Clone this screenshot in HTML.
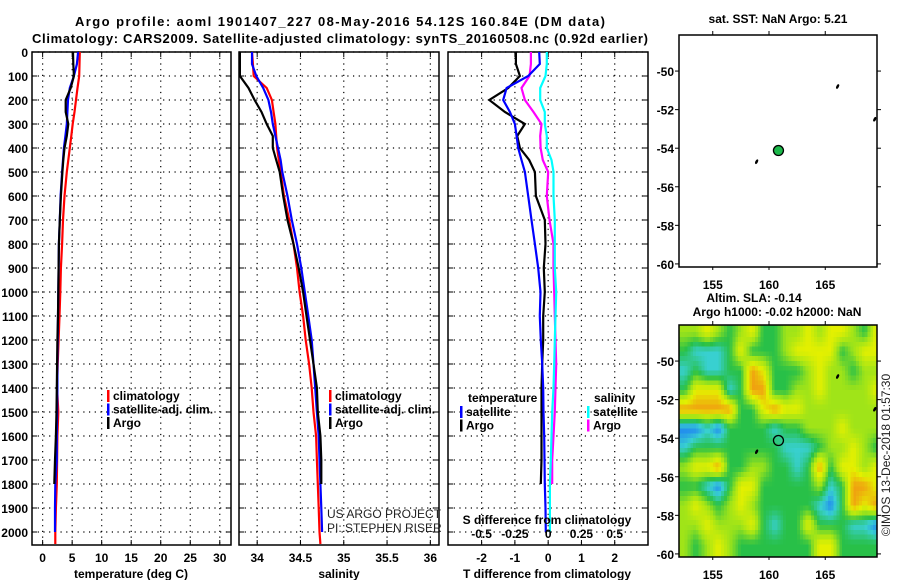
<!DOCTYPE html>
<html><head><meta charset="utf-8"><style>
html,body{margin:0;padding:0;background:#fff;}
svg{display:block;font-family:"Liberation Sans",sans-serif;}
.t{font-weight:bold;font-size:13px;fill:#000;}
.tk{font-weight:bold;font-size:12px;fill:#000;}
.nb{font-weight:normal;font-size:12px;fill:#222;}
</style></head><body>
<svg id="fig" width="900" height="580" viewBox="0 0 900 580">
<defs>
<clipPath id="mclip"><rect x="679" y="325" width="198" height="232"/></clipPath>
</defs>
<text x="340" y="26" text-anchor="middle" class="t" font-size="14" textLength="530">Argo profile: aoml 1901407_227 08-May-2016 54.12S 160.84E (DM data)</text>
<text x="340" y="43" text-anchor="middle" class="t" font-size="14" textLength="616">Climatology: CARS2009. Satellite-adjusted climatology: synTS_20160508.nc (0.92d earlier)</text>
<g id="layer"></g>
</svg>
<script>
const depths=[0,50,100,150,200,250,300,350,400,450,500,600,700,800,900,1000,1100,1200,1300,1400,1500,1600,1700,1800,1900,2000,2050];
const tClim=[6.3,6.25,6.2,5.9,5.65,5.4,5.1,4.85,4.6,4.35,4.1,3.7,3.45,3.3,3.1,3.0,2.85,2.7,2.55,2.45,2.65,2.5,2.45,2.4,2.25,2.15,2.15];
const tSat=[6.0,5.8,5.3,4.6,4.3,4.2,4.1,3.85,3.6,3.45,3.3,3.05,2.9,2.75,2.7,2.65,2.6,2.55,2.5,2.5,2.45,2.4,2.4,2.15,2.1,2.1,null];
const tArgo=[5.15,5.2,5.3,4.75,3.9,3.9,4.35,4.1,3.7,3.5,3.35,3.1,2.9,2.75,2.7,2.65,2.6,2.5,2.45,2.4,2.35,2.25,2.1,1.98,null,null,null];
const sClim=[33.94,33.95,33.96,34.11,34.17,34.19,34.21,34.22,34.23,34.25,34.27,34.31,34.37,34.42,34.46,34.49,34.53,34.56,34.6,34.63,34.65,34.68,34.69,34.7,34.71,34.72,34.73];
const sSat=[33.94,33.94,33.99,34.07,34.13,34.16,34.18,34.21,34.24,34.27,34.29,34.35,34.4,34.46,34.51,34.55,34.59,34.63,34.65,34.67,34.69,34.71,34.72,34.73,34.74,34.75,null];
const sArgo=[33.8,33.8,33.8,33.9,33.97,34.05,34.11,34.18,34.18,34.22,34.26,34.3,34.35,34.42,34.48,34.53,34.57,34.61,34.65,34.69,34.7,34.73,34.74,34.74,null,null,null];
const dtSat=[-0.27,-0.25,-0.6,-1.25,-1.35,-1.15,-1.0,-0.95,-0.9,-0.8,-0.7,-0.6,-0.5,-0.4,-0.3,-0.23,-0.25,-0.22,-0.18,-0.15,-0.14,-0.12,-0.11,-0.1,-0.08,-0.07,null];
const dtArgo=[-0.97,-0.97,-0.85,-1.2,-1.77,-1.3,-0.7,-0.93,-0.85,-0.57,-0.4,-0.37,-0.1,-0.08,-0.13,-0.1,-0.15,-0.15,-0.18,-0.2,-0.2,-0.2,-0.2,-0.22,null,null,null];
const dsSat=[-0.01,-0.01,-0.02,-0.06,-0.06,-0.025,-0.025,-0.01,-0.01,0.025,0.04,0.04,0.05,0.05,0.05,0.06,0.055,0.05,0.045,0.04,0.03,0.025,0.02,0.013,0.013,0.013,null];
const dsArgo=[-0.13,-0.13,-0.14,-0.2,-0.175,-0.11,-0.05,-0.06,-0.057,-0.04,0,-0.01,0.01,0.04,0.04,0.045,0.05,0.055,0.06,0.055,0.05,0.04,0.03,0.03,null,null,null];
const depthTicks=[0,100,200,300,400,500,600,700,800,900,1000,1100,1200,1300,1400,1500,1600,1700,1800,1900,2000];
const tTicks=[0,5,10,15,20,25,30];
const sTicks=[34,34.5,35,35.5,36];
const sTickLabels=["34","34.5","35","35.5","36"];
const dtTicks=[-2,-1,0,1,2];
const dsTicks=[-0.5,-0.25,0,0.25,0.5];
const dsTickLabels=["-0.5","-0.25","0","0.25","0.5"];
const lonTicks=[155,160,165];
const latTicks=[-50,-52,-54,-56,-58,-60];
const floatLon=160.84, floatLat=-54.12;
const islands=[[166.1,-50.8],[169.4,-52.5],[158.9,-54.7]];
const slaLats=[-48,-49,-50,-51,-52,-53,-54,-55,-56,-57,-58,-59];
const slaRows=["llylglyggllylyylgy","gcccgyggglyyyyglyy","cgccggoyggglyllgll","gyyycgooggllylllly","oooooggyoyylllllll","bbcbggggcgglllylll","cggggggggcccgllylg","lyyoggllggcgogyyly","ggcbgyyggggglcgooy","lylglylgggggcbgoyo","llylllygcggygggccb","lglylgggggggyygggg"];
</script>
<script>
const NS="http://www.w3.org/2000/svg";
const L=document.getElementById('layer');
function mk(tag,attrs,parent){const e=document.createElementNS(NS,tag);for(const k in attrs)e.setAttribute(k,attrs[k]);(parent||L).appendChild(e);return e;}
function txt(x,y,s,cls,anchor,parent){const e=mk('text',{x:x,y:y,'class':cls,'text-anchor':anchor||'start'},parent);e.textContent=s;return e;}
const Y0=52,YB=545;
function yD(d){return Y0+d*0.24;}
function panel(x0,x1,xmin,xmax,name){
  const sx=v=>x0+(v-xmin)/(xmax-xmin)*(x1-x0);
  const g=mk('g',{});
  
  
  return {sx,g,x0,x1};
}
function frame(p,xt,xtl,showY){
  depthTicks.forEach(d=>{const y=yD(d);
    const l=mk('line',{x1:p.x0,x2:p.x1,y1:y,y2:y,stroke:'#000','stroke-width':1.2,'stroke-dasharray':'1.2 4.5'},p.g);
    
    mk('line',{x1:p.x0,x2:p.x0+5,y1:y,y2:y,stroke:'#000'},p.g);mk('line',{x1:p.x1-5,x2:p.x1,y1:y,y2:y,stroke:'#000'},p.g);
    if(showY){const t=txt(28,y+5,String(d),'tk','end',p.g);}
  });
  xt.forEach((v,i)=>{const x=p.sx(v);
    const l=mk('line',{x1:x,x2:x,y1:Y0,y2:YB,stroke:'#000','stroke-width':1.2,'stroke-dasharray':'1.2 4.5'},p.g);
    
    mk('line',{x1:x,x2:x,y1:YB-5,y2:YB,stroke:'#000'},p.g);mk('line',{x1:x,x2:x,y1:Y0,y2:Y0+5,stroke:'#000'},p.g);
    const t=txt(x,562,xtl[i],'tk','middle',p.g);
  });
  const r=mk('rect',{x:p.x0,y:Y0,width:p.x1-p.x0,height:YB-Y0,fill:'none',stroke:'#000','stroke-width':1.5},p.g);
  
}
function series(p,vals,col,name){
  let pts=[];vals.forEach((v,i)=>{if(v!==null)pts.push(p.sx(v).toFixed(1)+','+yD(depths[i]).toFixed(1));});
  const e=mk('polyline',{points:pts.join(' '),fill:'none',stroke:col,'stroke-width':2.2},p.g);
  
}
function legend(p,x,y,items){items.forEach((it,i)=>{
  const yy=y+i*13.5;
  const b=mk('rect',{x:x,y:yy-9,width:2.5,height:12,fill:it[1]},p.g);
  const t=txt(x+6,yy+1,it[0],'tk','start',p.g);});}

const p1=panel(32,231,-1.8,31.9,'temperature-panel');
frame(p1,tTicks,tTicks.map(String),true);
series(p1,tClim,'#f00','temp-climatology-line');series(p1,tSat,'#00f','temp-satellite-line');series(p1,tArgo,'#000','temp-argo-line');
legend(p1,107,399,[['climatology','#f00'],['satellite-adj. clim.','#00f'],['Argo','#000']]);
let at=txt(131,578,'temperature (deg C)','tk','middle',p1.g);

const p2=panel(239,439,33.79,36.1,'salinity-panel');
frame(p2,sTicks,sTickLabels,false);
series(p2,sClim,'#f00','sal-climatology-line');series(p2,sSat,'#00f','sal-satellite-line');series(p2,sArgo,'#000','sal-argo-line');
legend(p2,329,399,[['climatology','#f00'],['satellite-adj. clim.','#00f'],['Argo','#000']]);
at=txt(339,578,'salinity','tk','middle',p2.g);
let c1=txt(327,518,'US ARGO PROJECT','nb','start',p2.g);
let c2=txt(327,532,'PI: STEPHEN RISER','nb','start',p2.g);

const p3=panel(448,648,-3.01,3.0,'difference-panel');
frame(p3,dtTicks,dtTicks.map(String),false);
const p3s={sx:v=>p3.sx(v*4),g:p3.g,x0:p3.x0,x1:p3.x1};
series(p3s,dsArgo,'#f0f','sal-diff-argo-line');series(p3s,dsSat,'#0ff','sal-diff-satellite-line');
series(p3,dtArgo,'#000','temp-diff-argo-line');series(p3,dtSat,'#00f','temp-diff-satellite-line');
let lt=txt(468,402,'temperature','tk','start',p3.g);
legend(p3,460,415,[['satellite','#00f'],['Argo','#000']]);
lt=txt(594,402,'salinity','tk','start',p3.g);
legend(p3,587,415,[['satellite','#0ff'],['Argo','#f0f']]);
at=txt(547,524,'S difference from climatology','tk','middle',p3.g);
dsTicks.forEach((v,i)=>{const t=txt(p3s.sx(v),538,dsTickLabels[i],'tk','middle',p3.g);});
at=txt(547,578,'T difference from climatology','tk','middle',p3.g);

const MX0=679,MX1=877,LON0=152.0,LON1=169.6,LATT=-48.13,LATB=-60.16;
const LVL={b:0,c:1,g:2,l:3,y:4,o:5};
const RAMP=[[32,136,240],[56,208,208],[40,192,72],[160,228,24],[228,240,0],[240,160,16]];
function rampColor(v){v=Math.max(0,Math.min(5,v));const i=Math.min(4,Math.floor(v)),f=v-i;const a=RAMP[i],b=RAMP[i+1];
  return 'rgb('+[0,1,2].map(k=>Math.round(a[k]+(b[k]-a[k])*f)).join(',')+')';}
function slaAt(lon,lat){
  const nC=slaRows[0].length,nR=slaRows.length;
  let fc=Math.max(0,Math.min(nC-1,lon-152.5)),fr=Math.max(0,Math.min(nR-1,-48.5-lat));
  const c0=Math.min(nC-2,Math.floor(fc)),r0=Math.min(nR-2,Math.floor(fr));const tx=fc-c0,ty=fr-r0;
  const g=(r,c)=>LVL[slaRows[r][c]];
  return g(r0,c0)*(1-tx)*(1-ty)+g(r0,c0+1)*tx*(1-ty)+g(r0+1,c0)*(1-tx)*ty+g(r0+1,c0+1)*tx*ty;
}
function mapAxes(y0,y1,name,withSla){
  const g=mk('g',{});
  const sx=v=>MX0+(v-LON0)/(LON1-LON0)*(MX1-MX0);
  const sy=v=>y0+(LATT-v)/(LATT-LATB)*(y1-y0);
  if(withSla){
    const hg=mk('g',{'clip-path':'url(#mclip)','shape-rendering':'crispEdges'},g);
    
    
    const step=0.25;
    for(let lat=-48;lat>-60.5;lat-=step){for(let lon=152;lon<169.75;lon+=step){
      const v=slaAt(lon+step/2,lat-step/2);
      const x=sx(lon),yy=sy(lat);
      const cell=mk('rect',{x:x.toFixed(1),y:yy.toFixed(1),width:(sx(lon+step)-x+0.6).toFixed(1),height:(sy(lat-step)-yy+0.6).toFixed(1),fill:rampColor(v)},hg);
      
      
    }}
  }
  mk('rect',{x:MX0,y:y0,width:MX1-MX0,height:y1-y0,fill:'none',stroke:'#000','stroke-width':1.5},g);
  lonTicks.forEach(v=>{const x=sx(v);mk('line',{x1:x,x2:x,y1:y0-4,y2:y0,stroke:'#000'},g);mk('line',{x1:x,x2:x,y1:y1,y2:y1+3,stroke:'#000'},g);
    const t=txt(x,y1+22,String(v),'tk','middle',g);t.setAttribute('font-size','13');});
  latTicks.forEach(v=>{const y=sy(v);mk('line',{x1:MX1,x2:MX1+4,y1:y,y2:y,stroke:'#000'},g);mk('line',{x1:MX0-4,x2:MX0,y1:y,y2:y,stroke:'#000'},g);
    const t=txt(674,y+5,String(v),'tk','end',g);t.setAttribute('font-size','13');});
  islands.forEach(p=>{const e=mk('ellipse',{cx:sx(p[0]),cy:sy(p[1]),rx:1.3,ry:2.5,fill:'#000',transform:'rotate(25 '+sx(p[0])+' '+sy(p[1])+')'},g);});
  const f=mk('circle',{cx:sx(floatLon),cy:sy(floatLat),r:5,fill:withSla?'none':'#1cb84a',stroke:'#000','stroke-width':1.3},g);
  
}
mapAxes(35,267,'sst-map',false);
mapAxes(325,557,'sla-map',true);
let mt=txt(778,23,'sat. SST: NaN Argo: 5.21','tk','middle');
mt=txt(754,302,'Altim. SLA: -0.14','tk','middle');
mt=txt(777,316,'Argo h1000: -0.02 h2000: NaN','tk','middle');
mt=txt(0,0,'©IMOS 13-Dec-2018 01:57:30','nb','middle');mt.setAttribute('transform','translate(890,455) rotate(-90)');


</script>
</body></html>
